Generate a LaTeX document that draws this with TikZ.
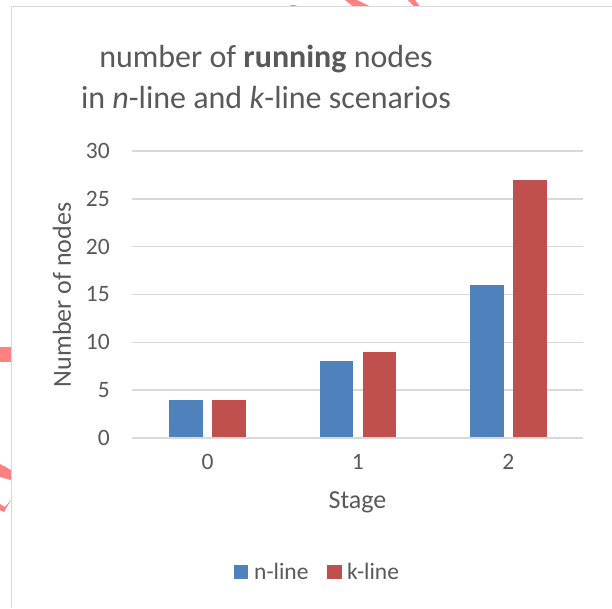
\documentclass[tikz,border=0pt]{standalone}
\usepackage{fontspec}
\setmainfont{Carlito}
\definecolor{txt}{HTML}{595959}
\definecolor{gridc}{HTML}{D9D9D9}
\definecolor{nblue}{HTML}{4F81BD}
\definecolor{kred}{HTML}{C0504D}
\definecolor{scrib}{HTML}{FF8080}
\begin{document}
\begin{tikzpicture}[x=1pt,y=-1pt,
  lbl/.style={text=txt,inner sep=0pt},
  tick/.style={lbl,font=\fontsize{23.5}{27}\selectfont},
  gline/.style={draw=gridc,line width=1.4pt},
  nbar/.style={fill=nblue},
  kbar/.style={fill=kred}]
\useasboundingbox (0,0) rectangle (612,608);
\fill[white] (0,0) rectangle (612,608);
% pink marks outside the frame
\fill[scrib] (345,0) -- (357,0) -- (370,6.5) -- (353,6.5) -- cycle;
\fill[scrib] (408,0) -- (415,0) -- (420,6.5) -- (414,6.5) -- cycle;
\fill[scrib] (289,6.5) .. controls (291,4.5) and (295,4.5) .. (298,6.5) -- cycle;
\fill[scrib] (0,347) rectangle (11,362);
\fill[scrib] (0,464) -- (11,470) -- (11,480) -- (0,477) -- cycle;
\fill[scrib] (0,504) -- (5,507) -- (11,500) -- (4,512) -- (0,510) -- cycle;
% frame
\draw[gridc,line width=1.4pt] (612,6.5) -- (11.5,6.5) -- (11.5,608);
% title
\node[lbl,anchor=base,font=\fontsize{32}{41}\selectfont] (t1) at (266,67) {number of \textbf{running} nodes};
\node[lbl,anchor=base,font=\fontsize{32}{41}\selectfont] (t2) at (266,108) {in \textit{n}-line and \textit{k}-line scenarios};
% grid and y ticks
\foreach \v in {0,5,...,30}{
  \draw[gline] (132,{438-\v*9.567}) -- (583,{438-\v*9.567});
  \node[tick,anchor=east] (y\v) at (110,{438-\v*9.567}) {\v};
}
% bars
\foreach \c/\n/\k/\i in {207.5/4/4/0, 357.9/8/9/1, 508.3/16/27/2}{
  \fill[nbar] ({\c-38.2},438) rectangle ({\c-4.8},{438-\n*9.567});
  \fill[kbar] ({\c+4.8},438) rectangle ({\c+38.2},{438-\k*9.567});
  \node[tick] (x\i) at (\c,462) {\i};
}
\draw[gline] (132,438) -- (583,438);
% axis titles
\node[lbl,rotate=90,font=\fontsize{26}{30}\selectfont] (ytitle) at (62,295) {Number of nodes};
\node[lbl,anchor=base,font=\fontsize{26}{30}\selectfont] (xtitle) at (357.5,508) {Stage};
% legend
\fill[nblue] (234,565) rectangle (248,579);
\node[tick,anchor=base west] (ln) at (254,579) {n-line};
\fill[kred] (327,565) rectangle (341.5,579);
\node[tick,anchor=base west] (lk) at (347,579) {k-line};
\end{tikzpicture}
\end{document}
